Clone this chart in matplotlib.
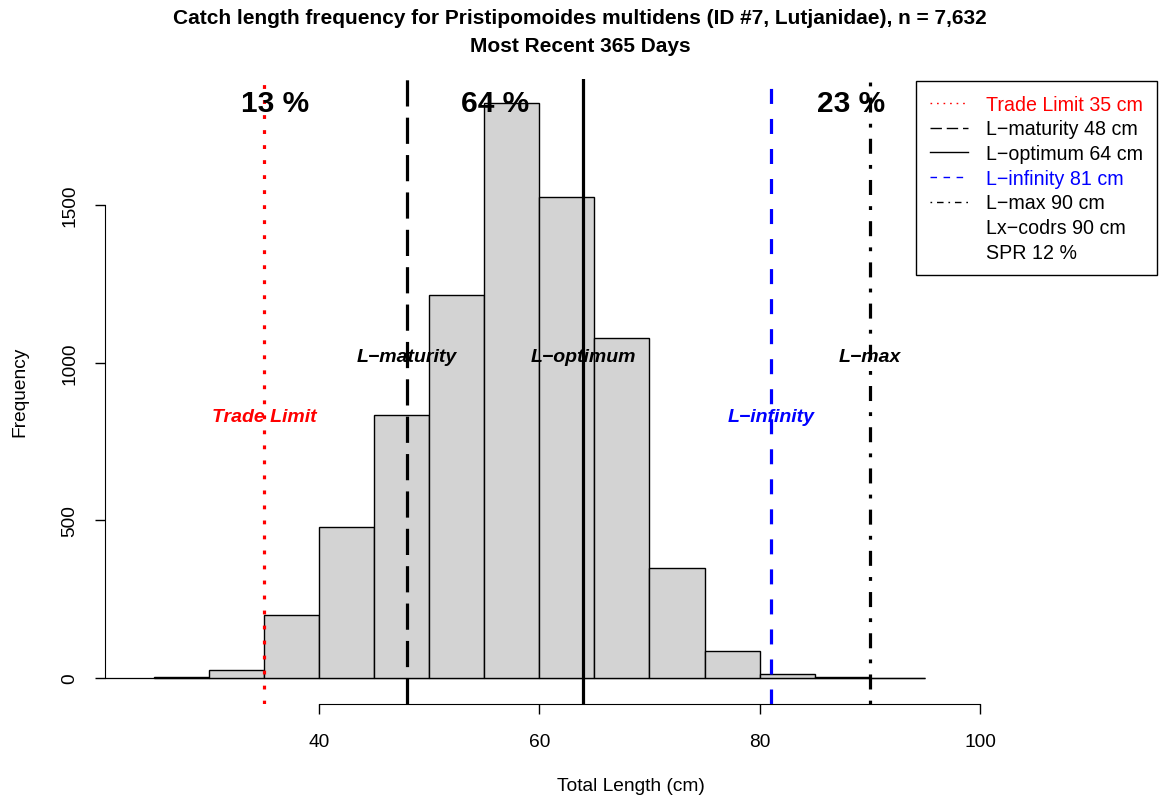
import matplotlib.pyplot as plt
from matplotlib.lines import Line2D
import numpy as np

plt.rcParams['font.family'] = ['Liberation Sans', 'DejaVu Sans']

# Histogram bins (5 cm) and counts
bin_edges = [25, 30, 35, 40, 45, 50, 55, 60, 65, 70, 75, 80, 85, 90, 95]
counts = [2, 25, 200, 479, 835, 1216, 1822, 1525, 1079, 349, 86, 12, 2, 0]

# Reference lengths (cm)
ref_names = ['Trade Limit', 'L\u2212maturity', 'L\u2212optimum', 'L\u2212infinity', 'L\u2212max']
ref_values = [35, 48, 64, 81, 90]
ref_colors = ['red', 'black', 'black', 'blue', 'black']
ref_label_y = [830, 1020, 1020, 830, 1020]

# Share of catch in each length zone
pct_labels = ['13 %', '64 %', '23 %']
pct_x = [36, 56, 88.3]

legend_labels = ['Trade Limit 35 cm', 'L\u2212maturity 48 cm', 'L\u2212optimum 64 cm',
                 'L\u2212infinity 81 cm', 'L\u2212max 90 cm', 'Lx\u2212codrs 90 cm', 'SPR 12 %']
legend_colors = ['red', 'black', 'black', 'blue', 'black', 'black', 'black']

x_ticks = [40, 60, 80, 100]
y_ticks = [0, 500, 1000, 1500]

# dash patterns (multiples of line width)
dash_styles = [(0, (1.2, 3.5)), (0, (8.2, 3.5)), '-', (0, (4.7, 4.7)), (0, (1.2, 3.5, 4.7, 3.5))]

W, H = 1161, 803
fig = plt.figure(figsize=(W / 100, H / 100), dpi=100)
ax = fig.add_axes([105 / W, (H - 705) / H, 1052 / W, 625 / H])

widths = np.diff(bin_edges)
ax.bar(bin_edges[:-1], counts, width=widths, align='edge', color='#d3d3d3',
       edgecolor='black', linewidth=1.0, zorder=2)
ax.hlines(0, 20.575, 95, color='black', linewidth=0.9, zorder=1)

for v, c, ls in zip(ref_values, ref_colors, dash_styles):
    ax.axvline(v, color=c, linestyle=ls, linewidth=2.3, zorder=3)

for name, v, c, yl in zip(ref_names, ref_values, ref_colors, ref_label_y):
    ax.text(v, yl, name, color=c, fontsize=14, fontweight='bold', fontstyle='italic',
            ha='center', va='center', zorder=4)

for lab, xp in zip(pct_labels, pct_x):
    ax.text(xp, 1824, lab, fontsize=21.5, fontweight='bold', ha='center', va='center', zorder=4)

ax.set_xlim(20.575, 116.07)
ax.set_ylim(-82.5, 1899.6)
ax.spines['top'].set_visible(False)
ax.spines['right'].set_visible(False)
ax.spines['left'].set_bounds(0, 1500)
ax.spines['bottom'].set_bounds(40, 100)
ax.set_xticks(x_ticks)
ax.set_yticks(y_ticks)
ax.set_yticklabels([str(t) for t in y_ticks], rotation=90, va='center')
ax.tick_params(labelsize=13.8, length=7, width=1)
ax.tick_params(axis='x', pad=14)
ax.tick_params(axis='y', pad=12)

fig.text(20 / W, 1 - 392 / H, 'Frequency', rotation=90, fontsize=13.8, ha='center', va='center')
fig.text(631 / W, 1 - 787 / H, 'Total Length (cm)', fontsize=13.8, ha='center', va='center')
fig.text(580 / W, 1 - 19 / H, 'Catch length frequency for Pristipomoides multidens (ID #7, Lutjanidae), n = 7,632',
         fontsize=15, fontweight='bold', ha='center', va='center')
fig.text(580 / W, 1 - 47 / H, 'Most Recent 365 Days', fontsize=15, fontweight='bold',
         ha='center', va='center')

handles = [Line2D([], [], color=c, linestyle=ls, linewidth=1.0)
           for c, ls in zip(ref_colors, dash_styles)]
handles += [Line2D([], [], linestyle='none'), Line2D([], [], linestyle='none')]
leg = ax.legend(handles, legend_labels, loc='upper right', bbox_to_anchor=(1157 / W, 1 - 82 / H),
                bbox_transform=fig.transFigure, borderaxespad=0, fontsize=14.1, fancybox=False,
                framealpha=1, edgecolor='black', handlelength=1.95, handletextpad=0.95,
                borderpad=0.7, labelspacing=0.29)
leg.get_frame().set_linewidth(1.0)
for t, c in zip(leg.get_texts(), legend_colors):
    t.set_color(c)

fig.savefig('out.png', dpi=100)
